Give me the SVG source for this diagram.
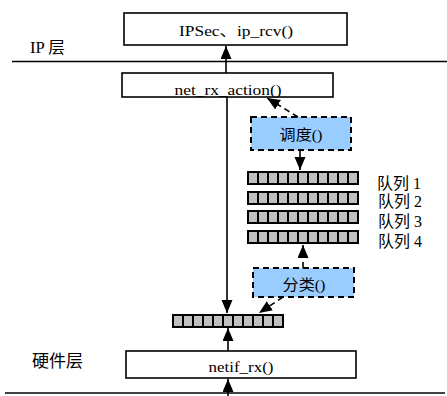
<svg xmlns="http://www.w3.org/2000/svg" xmlns:xlink="http://www.w3.org/1999/xlink" width="447" height="396" viewBox="0 0 447 396">
  <style>
    .box { fill: #ffffff; stroke: #000000; stroke-width: 1.6; }
    .dbox { fill: #99ccff; stroke: #000000; stroke-width: 2; stroke-dasharray: 6 4; }
    .txt { font-family: "Liberation Serif", "Noto Sans CJK SC", serif; font-size: 15px; fill: #000000; }
    .lbl { font-family: "Liberation Serif", "Noto Sans CJK SC", serif; font-size: 16px; fill: #000000; }
    .wire { fill: none; stroke: #000000; stroke-width: 1.6; }
    .dash { stroke-dasharray: 6 4; }
    .rule { stroke: #000000; stroke-width: 1.6; }
  </style>
  <defs>
    <marker id="arrow" markerUnits="userSpaceOnUse" markerWidth="14" markerHeight="12" refX="13" refY="5.5" orient="auto">
      <path d="M0,0 L13,5.5 L0,11 z" fill="#000000"/>
    </marker>
    <!-- packet queue: 11 grey slots on a black strip -->
    <g id="queue">
      <rect x="0" y="0" width="112" height="14" fill="#000000"/>
      <rect x="2" y="2" width="8" height="10" fill="#c0c0c0"/>
      <rect x="12" y="2" width="8" height="10" fill="#c0c0c0"/>
      <rect x="22" y="2" width="8" height="10" fill="#c0c0c0"/>
      <rect x="32" y="2" width="8" height="10" fill="#c0c0c0"/>
      <rect x="42" y="2" width="8" height="10" fill="#c0c0c0"/>
      <rect x="52" y="2" width="8" height="10" fill="#c0c0c0"/>
      <rect x="62" y="2" width="8" height="10" fill="#c0c0c0"/>
      <rect x="72" y="2" width="8" height="10" fill="#c0c0c0"/>
      <rect x="82" y="2" width="8" height="10" fill="#c0c0c0"/>
      <rect x="92" y="2" width="8" height="10" fill="#c0c0c0"/>
      <rect x="102" y="2" width="8" height="10" fill="#c0c0c0"/>
    </g>
  </defs>

  <rect width="447" height="396" fill="#ffffff"/>

  <!-- layer boundaries -->
  <line class="rule" x1="12" y1="61.5" x2="447" y2="61.5"/>
  <line class="rule" x1="5" y1="393" x2="445" y2="393"/>
  <text class="lbl" x="30" y="53" textLength="35" lengthAdjust="spacingAndGlyphs">IP 层</text>
  <text class="txt" x="32" y="367" style="font-family: 'Noto Sans CJK SC', sans-serif; font-size: 17px;">硬件层</text>

  <g id="ipsec">
    <rect class="box" x="124" y="13" width="223" height="32"/>
    <text class="txt" x="236" y="36" text-anchor="middle" textLength="114" lengthAdjust="spacingAndGlyphs">IPSec、ip_rcv()</text>
  </g>

  <g id="net-rx-action">
    <rect class="box" x="122" y="73" width="211" height="24"/>
    <text class="txt" x="228" y="95" text-anchor="middle" textLength="107" lengthAdjust="spacingAndGlyphs">net_rx_action()</text>
  </g>

  <g id="schedule">
    <rect class="dbox" x="251" y="117" width="100" height="33"/>
    <text class="txt" x="301" y="140" text-anchor="middle" textLength="43" lengthAdjust="spacingAndGlyphs">调度()</text>
  </g>

  <g id="queue-1">
    <use xlink:href="#queue" x="247" y="171"/>
    <text class="lbl" x="377" y="189">队列 1</text>
  </g>
  <g id="queue-2">
    <use xlink:href="#queue" x="247" y="191"/>
    <text class="lbl" x="378" y="207">队列 2</text>
  </g>
  <g id="queue-3">
    <use xlink:href="#queue" x="247" y="210"/>
    <text class="lbl" x="378" y="227">队列 3</text>
  </g>
  <g id="queue-4">
    <use xlink:href="#queue" x="247" y="230"/>
    <text class="lbl" x="378" y="247">队列 4</text>
  </g>

  <g id="classify">
    <rect class="dbox" x="253" y="268" width="101" height="29"/>
    <text class="txt" x="304" y="290" text-anchor="middle" textLength="43" lengthAdjust="spacingAndGlyphs">分类()</text>
  </g>

  <g id="input-queue">
    <use xlink:href="#queue" x="172" y="314"/>
  </g>

  <g id="netif-rx">
    <rect class="box" x="126" y="351" width="230" height="27"/>
    <text class="txt" x="241" y="372" text-anchor="middle" textLength="65" lengthAdjust="spacingAndGlyphs">netif_rx()</text>
  </g>

  <g id="connectors">
    <line class="wire" x1="226" y1="73" x2="226" y2="46" marker-end="url(#arrow)"/>
    <line class="wire" x1="227" y1="97" x2="227" y2="313" marker-end="url(#arrow)"/>
    <line class="wire dash" x1="298" y1="117" x2="267" y2="98" marker-end="url(#arrow)"/>
    <line class="wire" x1="300" y1="150" x2="300" y2="170" marker-end="url(#arrow)"/>
    <line class="wire dash" x1="303" y1="268" x2="303" y2="245" marker-end="url(#arrow)"/>
    <line class="wire dash" x1="283" y1="297" x2="259" y2="313" marker-end="url(#arrow)"/>
    <line class="wire" x1="228" y1="351" x2="228" y2="328" marker-end="url(#arrow)"/>
    <line class="wire" x1="228" y1="396" x2="228" y2="379" marker-end="url(#arrow)"/>
  </g>
</svg>
